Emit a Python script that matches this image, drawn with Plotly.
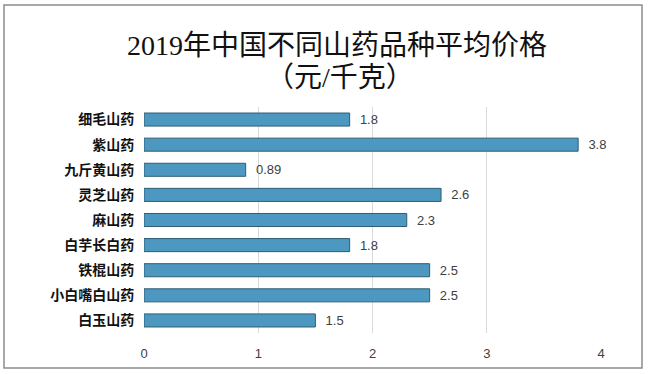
import plotly.graph_objects as go

categories = ["细毛山药", "紫山药", "九斤黄山药", "灵芝山药", "麻山药",
              "白芋长白药", "铁棍山药", "小白嘴白山药", "白玉山药"]
prices = [1.8, 3.8, 0.89, 2.6, 2.3, 1.8, 2.5, 2.5, 1.5]
value_labels = ["1.8", "3.8", "0.89", "2.6", "2.3", "1.8", "2.5", "2.5", "1.5"]
x_ticks = [0, 1, 2, 3, 4]
title_lines = ["2019年中国不同山药品种平均价格", "（元/千克）"]

W, H = 650, 374
L, R, T, B = 144, 49, 107, 41
pw, ph = W - L - R, H - T - B

def px_x(x):
    return (x - L) / pw

def px_y(y):
    return (H - B - y) / ph

fig = go.Figure()
fig.add_trace(go.Bar(
    x=prices, y=categories, orientation="h",
    width=0.52,
    marker=dict(color="#4d98c0", line=dict(color="#2f5d74", width=1)),
    text=["  " + t for t in value_labels], textposition="outside",
    constraintext="none",
    textfont=dict(family="Liberation Sans, Noto Sans CJK SC", size=13, color="#404040"),
    cliponaxis=False,
    hoverinfo="skip",
))

fig.update_layout(
    width=W, height=H,
    margin=dict(l=L, r=R, t=T, b=B),
    paper_bgcolor="white", plot_bgcolor="white",
    showlegend=False,
    bargap=0.48,
    xaxis=dict(range=[0, 4], tickvals=x_ticks, showgrid=True, gridcolor="#d9d9d9",
               gridwidth=1, zeroline=False, showline=False, automargin=False,
               ticks="outside", ticklen=8, tickcolor="rgba(0,0,0,0)",
               tickfont=dict(family="Liberation Sans", size=13, color="#404040")),
    yaxis=dict(autorange="reversed", showgrid=False, zeroline=False, showline=False,
               automargin=False,
               ticks="outside", ticklen=6, tickcolor="rgba(0,0,0,0)",
               tickfont=dict(family="Noto Sans CJK SC", size=14, color="#111111",
                             weight="bold")),
    shapes=[dict(type="rect", xref="paper", yref="paper",
                 x0=px_x(4), x1=px_x(642), y0=px_y(368), y1=px_y(5),
                 line=dict(color="#8c8c8c", width=1.5), fillcolor="rgba(0,0,0,0)",
                 layer="below")],
    annotations=[
        dict(text=title_lines[0], xref="paper", yref="paper",
             x=px_x(337), y=px_y(45), xanchor="center", yanchor="middle",
             showarrow=False,
             font=dict(family="Liberation Serif, Noto Sans CJK SC", size=28, color="#111111")),
        dict(text=title_lines[1], xref="paper", yref="paper",
             x=px_x(340), y=px_y(78), xanchor="center", yanchor="middle",
             showarrow=False,
             font=dict(family="Liberation Serif, Noto Sans CJK SC", size=28, color="#111111")),
    ],
)

fig.write_html("out.html", config={"displayModeBar": False},
               post_script="document.body.style.margin='0px';")
